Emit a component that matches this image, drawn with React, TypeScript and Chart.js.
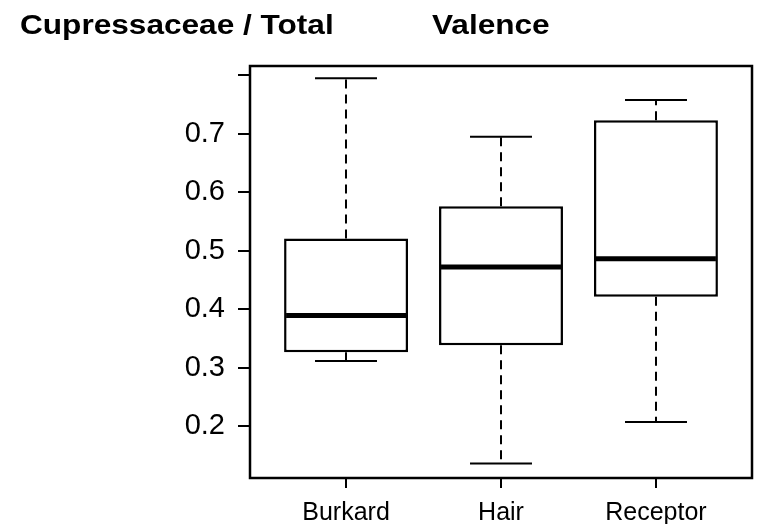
import React, { useEffect, useRef } from 'react';
import { Chart, registerables } from 'chart.js';

Chart.register(...registerables);

const categories = ['Burkard', 'Hair', 'Receptor'];
const whiskerLow = [0.311, 0.136, 0.207];
const q1 = [0.326, 0.338, 0.421];
const median = [0.389, 0.472, 0.486];
const q3 = [0.521, 0.576, 0.723];
const whiskerHigh = [0.795, 0.695, 0.758];
const yTicks = [0.2, 0.3, 0.4, 0.5, 0.6, 0.7, 0.8];
const yLabelled = [0.2, 0.3, 0.4, 0.5, 0.6, 0.7];
const titleLeft = 'Cupressaceae / Total';
const titleRight = 'Valence';

const boxPlugin = {
  id: 'boxExtras',
  beforeDatasetsDraw(chart: any) {
    const { ctx, scales } = chart;
    const x = scales.x;
    const y = scales.y;
    const unit = x.getPixelForValue(2) - x.getPixelForValue(1);
    const capHalf = (unit * 0.8) / 4;
    ctx.save();
    ctx.strokeStyle = '#000';
    ctx.lineWidth = 2;
    categories.forEach((_, i) => {
      const cx = Math.round(x.getPixelForValue(i + 1));
      ctx.setLineDash([9, 6]);
      ctx.beginPath();
      ctx.moveTo(cx, y.getPixelForValue(q3[i]));
      ctx.lineTo(cx, y.getPixelForValue(whiskerHigh[i]));
      ctx.moveTo(cx, y.getPixelForValue(q1[i]));
      ctx.lineTo(cx, y.getPixelForValue(whiskerLow[i]));
      ctx.stroke();
      ctx.setLineDash([]);
      ctx.beginPath();
      const yh = y.getPixelForValue(whiskerHigh[i]);
      const yl = y.getPixelForValue(whiskerLow[i]);
      ctx.moveTo(cx - capHalf, yh);
      ctx.lineTo(cx + capHalf, yh);
      ctx.moveTo(cx - capHalf, yl);
      ctx.lineTo(cx + capHalf, yl);
      ctx.stroke();
    });
    ctx.restore();
  },
  afterDatasetsDraw(chart: any) {
    const { ctx, scales, chartArea } = chart;
    const x = scales.x;
    const y = scales.y;
    const unit = x.getPixelForValue(2) - x.getPixelForValue(1);
    const boxHalf = (unit * 0.8) / 2;
    ctx.save();
    ctx.strokeStyle = '#000';
    ctx.lineWidth = 5;
    categories.forEach((_, i) => {
      const cx = x.getPixelForValue(i + 1);
      const ym = y.getPixelForValue(median[i]);
      ctx.beginPath();
      ctx.moveTo(cx - boxHalf + 2, ym);
      ctx.lineTo(cx + boxHalf - 2, ym);
      ctx.stroke();
    });
    ctx.lineWidth = 2.5;
    ctx.strokeRect(chartArea.left, chartArea.top, chartArea.right - chartArea.left, chartArea.bottom - chartArea.top);
    ctx.restore();
  },
  afterDraw(chart: any) {
    const { ctx } = chart;
    ctx.save();
    ctx.fillStyle = '#000';
    ctx.font = 'bold 27px "Liberation Sans", Arial, sans-serif';
    ctx.textBaseline = 'alphabetic';
    ctx.textAlign = 'left';
    ctx.save();
    ctx.translate(20, 34);
    ctx.scale(1.17, 1);
    ctx.fillText(titleLeft, 0, 0);
    ctx.restore();
    ctx.save();
    ctx.translate(432, 34);
    ctx.scale(1.17, 1);
    ctx.fillText(titleRight, 0, 0);
    ctx.restore();
    ctx.restore();
  },
};

export default function App() {
  const ref = useRef<HTMLCanvasElement | null>(null);
  useEffect(() => {
    if (!ref.current) return;
    const chart = new Chart(ref.current, {
      type: 'bar',
      data: {
        datasets: [
          {
            data: categories.map((_, i) => ({ x: i + 1, y: [q1[i], q3[i]] })) as any,
            backgroundColor: '#fff',
            borderColor: '#000',
            borderWidth: 2.5,
            borderSkipped: false,
            barPercentage: 0.8,
            categoryPercentage: 1,
          },
        ],
      },
      options: {
        responsive: false,
        animation: false,
        layout: { padding: { top: 66, right: 16, left: 0, bottom: 0 } },
        plugins: { legend: { display: false }, tooltip: { enabled: false }, title: { display: false } },
        scales: {
          x: {
            type: 'linear',
            offset: false,
            min: 0.38,
            max: 3.62,
            afterBuildTicks: (s: any) => {
              s.ticks = categories.map((_, i) => ({ value: i + 1 }));
            },
            afterFit: (s: any) => {
              s.height = 46;
            },
            ticks: {
              callback: (v: any) => categories[Number(v) - 1] ?? '',
              color: '#000',
              font: { family: '"Liberation Sans", Arial, sans-serif', size: 25 },
              padding: 10,
              maxRotation: 0,
              autoSkip: false,
            },
            grid: { display: true, offset: false, drawOnChartArea: false, drawTicks: true, tickLength: 10, color: '#000', lineWidth: 2 },
            border: { display: true, color: '#000', width: 2 },
          },
          y: {
            type: 'linear',
            min: 0.111,
            max: 0.816,
            afterBuildTicks: (s: any) => {
              s.ticks = yTicks.map((v) => ({ value: v }));
            },
            afterFit: (s: any) => {
              s.width = 250;
            },
            ticks: {
              callback: (v: any) => {
                const n = Number(v);
                return yLabelled.some((t) => Math.abs(t - n) < 1e-6) ? n.toFixed(1) : '';
              },
              color: '#000',
              font: { family: '"Liberation Sans", Arial, sans-serif', size: 29 },
              padding: 13,
              autoSkip: false,
            },
            grid: { display: true, drawOnChartArea: false, drawTicks: true, tickLength: 12, color: '#000', lineWidth: 2 },
            border: { display: true, color: '#000', width: 2 },
          },
        },
      },
      plugins: [boxPlugin],
    });
    return () => chart.destroy();
  }, []);
  return (
    <div style={{ position: 'absolute', left: 0, top: 0, width: 768, height: 524, background: '#fff' }}>
      <canvas ref={ref} width={768} height={524} style={{ display: 'block' }} />
    </div>
  );
}
